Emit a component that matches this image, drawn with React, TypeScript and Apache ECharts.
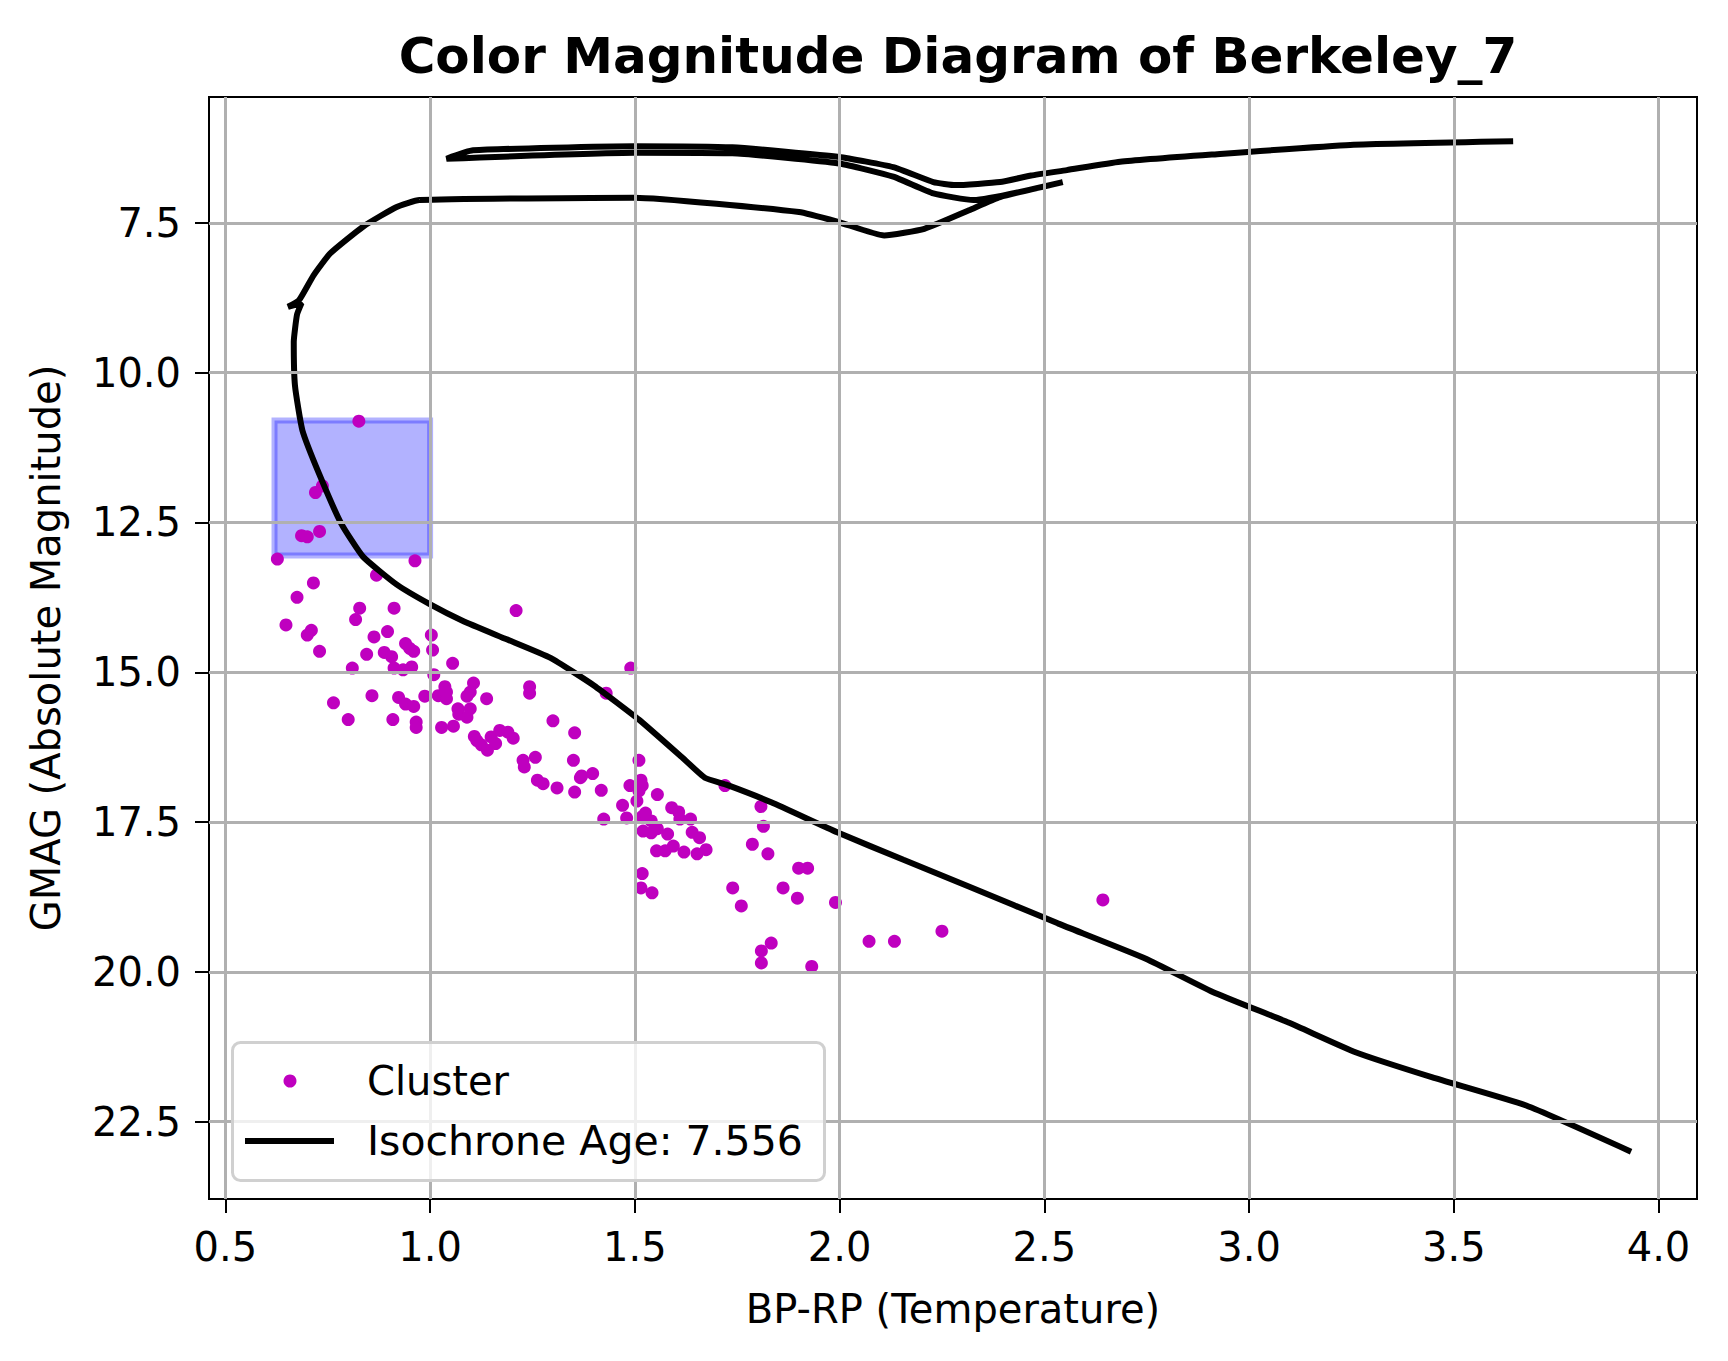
import React, { useEffect, useRef } from "react";
import * as echarts from "echarts";

const clusterX = [0.826,0.737,0.72,0.686,0.70,0.73,0.627,0.963,0.715,0.869,0.675,0.648,0.71,0.70,0.828,0.818,0.912,1.21,0.73,0.863,0.896,0.94,0.95,0.96,0.845,0.888,0.906,1.003,1.006,1.055,0.955,0.912,0.934,0.81,1.49,1.009,0.764,0.858,0.923,0.94,0.96,0.987,1.02,1.04,1.036,1.04,1.106,1.098,1.09,1.138,1.243,1.243,1.43,0.80,0.909,0.966,0.966,1.028,1.057,1.07,1.09,1.068,1.098,1.108,1.125,1.114,1.14,1.149,1.17,1.19,1.203,1.16,1.30,1.353,1.227,1.23,1.257,1.262,1.276,1.31,1.35,1.367,1.37,1.353,1.397,1.418,1.424,1.51,1.515,1.518,1.488,1.505,1.51,1.48,1.47,1.518,1.54,1.52,1.555,1.526,1.54,1.555,1.59,1.607,1.61,1.636,1.58,1.594,1.574,1.553,1.62,1.64,1.658,1.652,1.674,1.72,1.808,1.814,1.787,1.825,1.518,1.515,1.542,1.739,1.76,1.862,1.90,1.922,1.897,1.99,1.833,1.809,1.809,1.932,2.072,2.134,2.25,2.643];
const clusterY = [10.81,11.89,12.0,12.72,12.74,12.65,13.11,13.14,13.51,13.38,13.75,14.21,14.3,14.38,13.93,14.12,13.93,13.97,14.65,14.41,14.32,14.52,14.6,14.65,14.7,14.67,14.74,14.38,14.63,14.85,14.91,14.93,14.96,14.93,14.93,15.04,15.51,15.39,15.42,15.53,15.57,15.40,15.39,15.44,15.24,15.33,15.18,15.33,15.40,15.44,15.24,15.35,15.35,15.79,15.79,15.83,15.92,15.92,15.9,15.7,15.75,15.61,15.61,16.07,16.21,16.14,16.3,16.08,15.97,16.0,16.1,16.19,15.81,16.01,16.47,16.58,16.42,16.8,16.86,16.93,16.47,16.76,16.73,17.0,16.69,16.97,17.45,16.47,16.8,16.89,16.89,17.15,16.98,17.43,17.22,17.41,17.48,17.65,17.04,17.35,17.68,17.61,17.26,17.33,17.45,17.45,17.7,17.9,17.98,17.98,18.0,17.67,17.76,18.03,17.96,16.89,17.24,17.57,17.87,18.03,18.36,18.6,18.68,18.6,18.9,18.6,18.27,18.27,18.77,18.84,19.52,19.65,19.85,19.91,19.49,19.49,19.32,18.8];

const isoX = [3.933,3.677,3.448,3.26,3.098,2.91,2.748,2.533,2.317,2.156,1.994,1.833,1.725,1.671,1.617,1.51,1.40,1.294,1.187,1.079,0.998,0.917,0.836,0.783,0.729,0.688,0.67,0.667,0.675,0.686,0.653,0.68,0.715,0.756,0.837,0.917,0.974,1.498,1.901,1.999,2.109,2.207,2.316,2.392,2.545,2.327,2.229,2.131,1.999,1.738,1.498,1.040,1.105,1.498,1.738,1.999,2.131,2.229,2.283,2.392,2.468,2.555,2.685,2.909,3.247,3.645];
const isoY = [23.0,22.23,21.76,21.34,20.85,20.33,19.78,19.19,18.58,18.13,17.67,17.17,16.88,16.76,16.43,15.79,15.22,14.76,14.45,14.14,13.86,13.53,13.07,12.52,11.69,10.96,10.22,9.49,9.03,8.84,8.9,8.79,8.38,8.01,7.56,7.24,7.12,7.08,7.32,7.49,7.71,7.60,7.29,7.07,6.82,7.12,7.01,6.73,6.51,6.34,6.33,6.43,6.29,6.22,6.24,6.40,6.57,6.82,6.87,6.82,6.71,6.62,6.48,6.36,6.20,6.14];

const xTicks = [0.5, 1.0, 1.5, 2.0, 2.5, 3.0, 3.5, 4.0];
const yTicks = [7.5, 10.0, 12.5, 15.0, 17.5, 20.0, 22.5];
const boxX = [0.62, 1.0];
const boxY = [10.8, 13.05];

const FONT = "DejaVu Sans";

export default function App() {
  const ref = useRef<HTMLDivElement>(null);
  useEffect(() => {
    document.body.style.margin = "0";
    const chart = echarts.init(ref.current!, null, { renderer: "svg" });
    const grid = "#b0b0b0";
    chart.setOption({
      animation: false,
      backgroundColor: "#ffffff",
      title: {
        text: "Color Magnitude Diagram of Berkeley_7",
        left: 953, top: 26, textAlign: "center",
        textStyle: { fontFamily: FONT, fontWeight: "bold", fontSize: 50, color: "#000" },
      },
      grid: { left: 209, right: 31, top: 97, bottom: 162, show: true, borderColor: "#000", borderWidth: 2, backgroundColor: "transparent" },
      xAxis: {
        type: "value", min: 0.46, max: 4.094,
        name: "BP-RP (Temperature)", nameLocation: "middle", nameGap: 110,
        nameTextStyle: { fontFamily: FONT, fontSize: 40, color: "#000", verticalAlign: "middle" },
        axisLine: { show: false },
        axisTick: { show: true, customValues: xTicks, length: 14, lineStyle: { color: "#000", width: 2 } },
        axisLabel: { customValues: xTicks, margin: 28, fontFamily: FONT, fontSize: 40, color: "#000", formatter: (v: number) => v.toFixed(1) },
        splitLine: { show: false },
      },
      yAxis: {
        type: "value", min: 5.40, max: 23.79, inverse: true,
        name: "GMAG (Absolute Magnitude)", nameLocation: "middle", nameGap: 163,
        nameTextStyle: { fontFamily: FONT, fontSize: 40, color: "#000", verticalAlign: "middle" },
        axisLine: { show: false },
        axisTick: { show: true, customValues: yTicks, length: 14, lineStyle: { color: "#000", width: 2 } },
        axisLabel: { customValues: yTicks, margin: 28, fontFamily: FONT, fontSize: 40, color: "#000", formatter: (v: number) => v.toFixed(1) },
        splitLine: { show: false },
      },
      series: [
        {
          type: "line", data: [], silent: true, z: 1,
          markLine: {
            silent: true, symbol: "none", label: { show: false },
            lineStyle: { color: grid, width: 3, type: "solid" },
            data: [...xTicks.map((v) => ({ xAxis: v })), ...yTicks.map((v) => ({ yAxis: v }))],
          },
        },
        {
          name: "Cluster", type: "scatter", z: 3, symbolSize: 13,
          itemStyle: { color: "#bf00bf", opacity: 1 },
          data: clusterX.map((x, i) => [x, clusterY[i]]),
        },
        {
          name: "Isochrone", type: "line", z: 4, symbol: "none", smooth: 0.15,
          lineStyle: { color: "#000", width: 6 },
          data: isoX.map((x, i) => [x, isoY[i]]),
        },
        {
          type: "line", data: [], silent: true, z: 5,
          markArea: {
            silent: true,
            itemStyle: { color: "rgba(0,0,255,0.3)", borderColor: "rgba(0,0,255,0.3)", borderWidth: 6 },
            data: [[{ coord: [boxX[0], boxY[0]] }, { coord: [boxX[1], boxY[1]] }]],
          },
        },
      ],
      graphic: [
        { type: "rect", left: 231, top: 1041, z: 100, shape: { width: 592, height: 138, r: 8 }, style: { fill: "rgba(255,255,255,0.8)", stroke: "#d0d0d0", lineWidth: 3 } },
        { type: "circle", z: 101, shape: { cx: 290, cy: 1081, r: 6.5 }, style: { fill: "#bf00bf" } },
        { type: "text", z: 101, x: 367, y: 1081, style: { text: "Cluster", fontFamily: FONT, fontSize: 40, fill: "#000", verticalAlign: "middle" } },
        { type: "line", z: 101, shape: { x1: 245, y1: 1141, x2: 334, y2: 1141 }, style: { stroke: "#000", lineWidth: 6 } },
        { type: "text", z: 101, x: 367, y: 1141, style: { text: "Isochrone Age: 7.556", fontFamily: FONT, fontSize: 41, fill: "#000", verticalAlign: "middle" } },
      ],
    });
    return () => chart.dispose();
  }, []);
  return <div ref={ref} style={{ width: 1728, height: 1361 }} />;
}
